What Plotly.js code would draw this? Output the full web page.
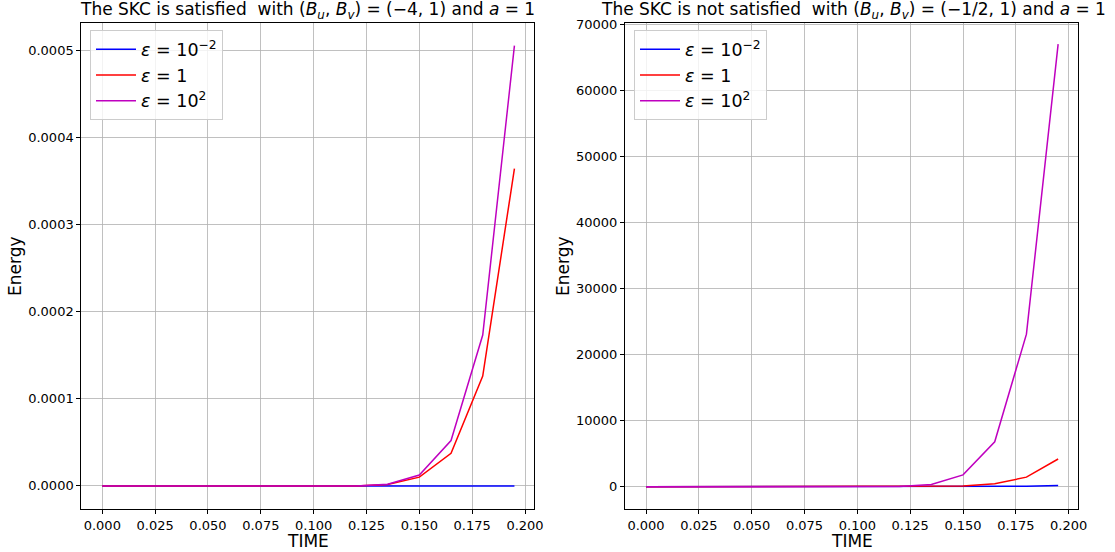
<!DOCTYPE html>
<html><head><meta charset="utf-8">
<script src="https://cdn.plot.ly/plotly-3.0.1.min.js"></script>
<style>html,body{margin:0;padding:0;background:#fff}#chart{width:1115px;height:552px}</style>
</head><body><div id="chart"></div>
<script>
const time = [0,0.015,0.03,0.045,0.06,0.075,0.09,0.105,0.12,0.135,0.15,0.165,0.18,0.195];
// Left: SKC satisfied
const leftEpsSmall = [0,0,0,0,0,0,0,0,0,0,0,0,0,0];
const leftEps1     = [0,0,0,0,0,0,0,0,0,0.0000015,0.0000100,0.0000374,0.000126,0.000364];
const leftEps100   = [0,0,0,0,0,0,0,0,0,0.0000020,0.0000125,0.000052,0.000173,0.000505];
// Right: SKC not satisfied
const rightEpsSmall = [0,0,0,0,0,0,0,0,0,0,10,30,80,200];
const rightEps1     = [0,0,0,0,0,0,0,0,0,20,100,450,1450,4200];
const rightEps100   = [0,0,0,0,0,0,0,0,20,350,1800,6800,23100,67000];
const legendNames = ['<i>ε</i> = 10<sup>−2</sup>','<i>ε</i> = 1','<i>ε</i> = 10<sup>2</sup>'];
const colors = ['#0000ff','#ff0000','#bf00bf'];

const traces = [];
[leftEpsSmall,leftEps1,leftEps100].forEach((y,i)=>traces.push({x:time,y:y,mode:'lines',name:legendNames[i],
  line:{color:colors[i],width:1.5},xaxis:'x',yaxis:'y',legend:'legend'}));
[rightEpsSmall,rightEps1,rightEps100].forEach((y,i)=>traces.push({x:time,y:y,mode:'lines',name:legendNames[i],
  line:{color:colors[i],width:1.5},xaxis:'x2',yaxis:'y2',legend:'legend2'}));

const font = {family:'DejaVu Sans, sans-serif',color:'#000'};
function xa(dom){return {domain:dom,range:[-0.00994,0.2044],tickvals:[0,0.025,0.05,0.075,0.1,0.125,0.15,0.175,0.2],
  tickformat:'.3f',showgrid:true,gridcolor:'#b0b0b0',gridwidth:0.8,zeroline:false,showline:true,linecolor:'#000',linewidth:1,mirror:true,
  ticks:'outside',ticklen:4,tickcolor:'#000',tickfont:{...font,size:13},automargin:false};}
function ya(dom,range,vals,fmt,anchor){return {domain:dom,range:range,tickvals:vals,tickformat:fmt,anchor:anchor,showgrid:true,gridcolor:'#b0b0b0',gridwidth:0.8,
  zeroline:false,showline:true,linecolor:'#000',linewidth:1,mirror:true,ticks:'outside',ticklen:4,tickcolor:'#000',tickfont:{...font,size:13},automargin:false};}

const leftDom=[81.3/1115,534.3/1115], rightDom=[625/1115,1078/1115];
const legendStyle = {bgcolor:'rgba(255,255,255,0.8)',bordercolor:'#cccccc',borderwidth:1,font:{...font,size:17.5},
  xanchor:'left',yanchor:'top',tracegroupgap:0,itemwidth:40};
const layout = {
  width:1115,height:552,margin:{l:0,r:0,t:23,b:43},paper_bgcolor:'#fff',plot_bgcolor:'#fff',font:font,
  xaxis:{...xa(leftDom),anchor:'y'},
  yaxis:ya([0,1],[-0.0000265,0.000531],[0,0.0001,0.0002,0.0003,0.0004,0.0005],'.4f','x'),
  xaxis2:{...xa(rightDom),anchor:'y2'},
  yaxis2:ya([0,1],[-3370,70200],[0,10000,20000,30000,40000,50000,60000,70000],'d','x2'),
  legend:{...legendStyle,x:90/1115,y:0.985,xref:'paper',yref:'paper'},
  legend2:{...legendStyle,x:634/1115,y:0.985,xref:'paper',yref:'paper'},
  annotations:[
    {text:'The SKC is satisfied  with (<i>B<sub>u</sub></i>, <i>B<sub>v</sub></i>) = (−4, 1) and <i>a</i> = 1',xref:'paper',yref:'paper',
     x:(81.3+534.3)/2/1115,y:1,xanchor:'center',yanchor:'bottom',yshift:-1,showarrow:false,font:{...font,size:17}},
    {text:'The SKC is not satisfied  with (<i>B<sub>u</sub></i>, <i>B<sub>v</sub></i>) = (−1/2, 1) and <i>a</i> = 1',xref:'paper',yref:'paper',
     x:(625+1078)/2/1115,y:1,xanchor:'center',yanchor:'bottom',yshift:-1,xshift:2,showarrow:false,font:{...font,size:17}},
    {text:'Energy',xref:'paper',yref:'paper',x:15/1115,y:0.5,xanchor:'center',textangle:-90,showarrow:false,font:{...font,size:17}},
    {text:'Energy',xref:'paper',yref:'paper',x:563/1115,y:0.5,xanchor:'center',textangle:-90,showarrow:false,font:{...font,size:17}},
    {text:'TIME',xref:'paper',yref:'paper',x:(81.3+534.3)/2/1115,y:-43/486,xanchor:'center',yanchor:'bottom',yshift:-1,showarrow:false,font:{...font,size:17}},
    {text:'TIME',xref:'paper',yref:'paper',x:(625+1078)/2/1115,y:-43/486,xanchor:'center',yanchor:'bottom',yshift:-1,showarrow:false,font:{...font,size:17}}
  ]
};
Plotly.newPlot('chart',traces,layout,{displayModeBar:false,staticPlot:true});
</script></body></html>
